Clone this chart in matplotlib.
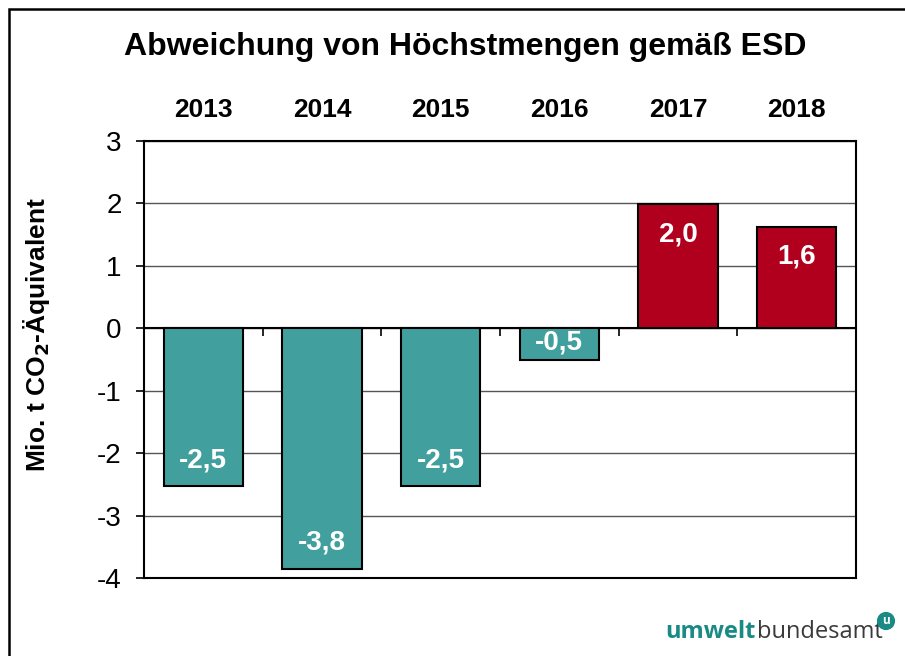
import numpy as np
import matplotlib
matplotlib.use("Agg")
import matplotlib.pyplot as plt
from matplotlib.patches import Rectangle

plt.rcParams['font.family'] = ['Liberation Sans', 'DejaVu Sans']

# data
years = ['2013', '2014', '2015', '2016', '2017', '2018']
values = [-2.53, -3.85, -2.53, -0.51, 1.99, 1.63]
labels = ['-2,5', '-3,8', '-2,5', '-0,5', '2,0', '1,6']
y_ticks = [-4, -3, -2, -1, 0, 1, 2, 3]

teal = '#41A09E'
red = '#B1001E'
colors = [teal if v < 0 else red for v in values]

fig = plt.figure(figsize=(9.05, 6.56), dpi=100)
ax = fig.add_axes([144/905, 1 - 578/656, (856-144)/905, (578-141)/656])

x = np.arange(len(years))
ax.set_axisbelow(True)
ax.bar(x, values, width=0.67, color=colors, edgecolor='black', linewidth=1.5, zorder=3)

ax.set_xlim(-0.5, len(years) - 0.5)
ax.set_ylim(-4, 3)
ax.set_yticks(y_ticks)
ax.set_yticklabels([str(t) for t in y_ticks], fontsize=20)
ax.tick_params(axis='y', direction='out', length=6, width=1.2, pad=10)
ax.yaxis.grid(True, color='#555555', linewidth=1.0)

# year labels on top
ax.xaxis.tick_top()
ax.set_xticks(x)
ax.set_xticklabels(years, fontsize=19, fontweight='bold')
ax.tick_params(axis='x', length=0, pad=14)

for s in ax.spines.values():
    s.set_linewidth(1.5)
    s.set_color('black')

# zero line with category separators
ax.axhline(0, color='black', linewidth=1.5, zorder=2)
ax.vlines(x[:-1] + 0.5, -0.13, 0, colors='black', linewidth=1.2, zorder=2)

# value labels inside bars
px_per_unit = (578 - 141) / 7.0
for xi, v, lab in zip(x, values, labels):
    if v < 0:
        off = min(26.0, abs(v) * px_per_unit / 2 + 2) / px_per_unit
        y = v + off
    else:
        y = v - 30.0 / px_per_unit
    ax.text(xi, y, lab, ha='center', va='center', color='white',
            fontsize=20, fontweight='bold', zorder=4)

fig.text(465/905, 1 - 47/656, 'Abweichung von Höchstmengen gemäß ESD',
         ha='center', va='center', fontsize=23, fontweight='bold')
fig.text(37/905, 1 - 335/656, 'Mio. t CO$_\\mathbf{2}$-Äquivalent', rotation=90,
         ha='center', va='center', fontsize=19, fontweight='bold')

# outer frame
fig.add_artist(Rectangle((9/905, -0.1), 1.2, 1 - 9/656 + 0.1, transform=fig.transFigure,
                         fill=False, edgecolor='black', linewidth=1.8, clip_on=False))

# logo
fig.text(665/905, 1 - 638/656, 'umwelt', ha='left', va='baseline', fontsize=17,
         fontweight='bold', color='#1A8A85', family='Open Sans')
fig.text(757/905, 1 - 638/656, 'bundesamt', ha='left', va='baseline', fontsize=17,
         color='#3a3a3a', family='Open Sans')
fig.text(886/905, 1 - 621/656, 'u', ha='center', va='center', fontsize=8.5,
         fontweight='bold', color='white', family='Open Sans',
         bbox=dict(boxstyle='circle,pad=0.22', fc='#1A8A85', ec='none'))

fig.savefig('out.png', dpi=100)
